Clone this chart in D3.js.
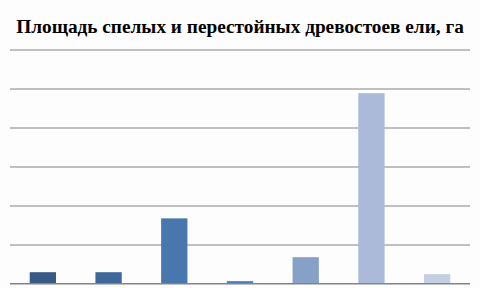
<!DOCTYPE html>
<html lang="ru">
<meta charset="utf-8"/>
<head>
<script src="https://d3js.org/d3.v7.min.js"></script>
<style>
	body { margin: 0; background: #fdfdfd; }
	svg { display: block; }
	#title { font-family: "Liberation Serif", "DejaVu Serif", serif; font-weight: bold; font-size: 19.3px; fill: #000; }
	.grid line { stroke: #848484; stroke-width: 1.2; }
	.grid path { display: none; }
</style>
</head>
<body>
<svg width="480" height="288"></svg>
<script>
let titleText = "Площадь спелых и перестойных древостоев ели, га"
let categories = ["1", "2", "3", "4", "5", "6", "7"]
let values = [0.29, 0.29, 1.67, 0.06, 0.675, 4.88, 0.24]
let colors = ["#3a5a87", "#3e6899", "#4877ae", "#4a7ebb", "#87a0c8", "#aabad8", "#c3cfe2"]
let gridTicks = [0, 1, 2, 3, 4, 5, 6]

let svg = d3.select("svg")
let width = 480
let height = 288
let plotLeft = 10, plotRight = 470, plotTop = 49.5, plotBottom = 283.5

let xScale = d3.scaleBand()
	.domain(categories)
	.range([plotLeft, plotRight])
	.paddingInner(0.6)
	.paddingOuter(0.3)

let yScale = d3.scaleLinear()
	.domain([0, 6])
	.range([plotBottom, plotTop])

svg.append("text")
	.attr("id", "title")
	.attr("x", width / 2)
	.attr("y", 33)
	.attr("text-anchor", "middle")
	.text(titleText)

svg.append("g")
	.attr("class", "grid")
	.attr("transform", "translate(" + plotLeft + ",0)")
	.call(d3.axisLeft(yScale).tickValues(gridTicks).tickSize(-(plotRight - plotLeft)).tickFormat(""))

svg.selectAll("rect.bar")
	.data(values)
	.enter()
	.append("rect")
	.attr("class", "bar")
	.attr("x", (d, i) => xScale(categories[i]))
	.attr("y", d => yScale(d))
	.attr("width", xScale.bandwidth())
	.attr("height", d => yScale(0) - yScale(d))
	.attr("fill", (d, i) => colors[i])

// baseline over the bars
svg.append("line")
	.attr("x1", plotLeft).attr("x2", plotRight)
	.attr("y1", yScale(0)).attr("y2", yScale(0))
	.attr("stroke", "#848484")
	.attr("stroke-width", 1.2)
</script>
</body>
</html>
